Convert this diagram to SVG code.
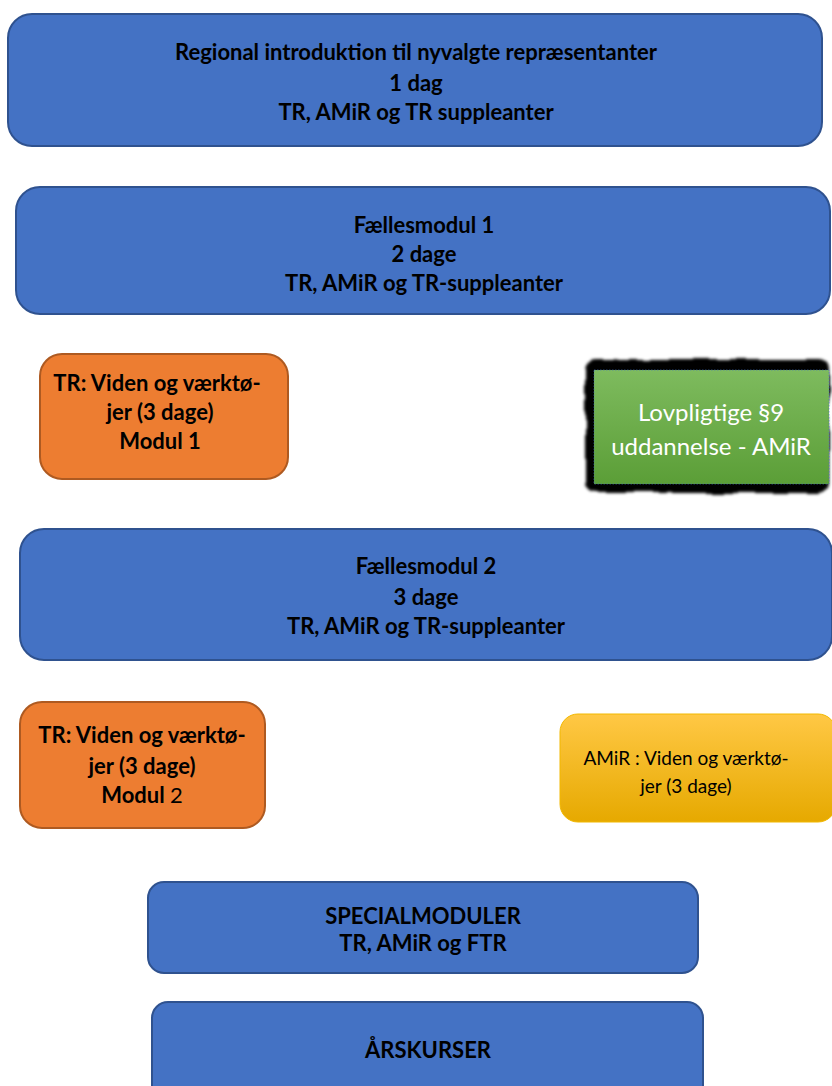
<svg xmlns="http://www.w3.org/2000/svg" width="832" height="1086" viewBox="0 0 832 1086">
<defs>
<linearGradient id="gYellow" x1="0" y1="0" x2="0" y2="1"><stop offset="0" stop-color="#ffc845"/><stop offset="1" stop-color="#e6a900"/></linearGradient>
<linearGradient id="gGreen" x1="0" y1="0" x2="0" y2="1"><stop offset="0" stop-color="#7ebb5e"/><stop offset="1" stop-color="#5b9e37"/></linearGradient>
<filter id="rough" x="-10%" y="-10%" width="120%" height="120%">
<feTurbulence type="fractalNoise" baseFrequency="0.035" numOctaves="2" seed="5" result="n"/>
<feDisplacementMap in="SourceGraphic" in2="n" scale="7" xChannelSelector="R" yChannelSelector="G" result="d"/>
<feGaussianBlur in="d" stdDeviation="1.8"/>
</filter>
</defs>
<style>
.blue{fill:#4472c4;stroke:#2f528f;stroke-width:2}
.orange{fill:#ed7d31;stroke:#ae5a21;stroke-width:2}
.t{font-family:Lato,"Open Sans","Liberation Sans",sans-serif;font-size:22px;font-weight:bold;fill:#000;text-anchor:middle}
.n{font-weight:normal}
</style>
<rect width="832" height="1086" fill="#fff"/>
<g id="regional">
<rect class="blue" x="8" y="14" width="814" height="132" rx="24"/>
<text class="t" x="416" y="60">Regional introduktion til nyvalgte repræsentanter</text>
<text class="t" x="416" y="91">1 dag</text>
<text class="t" x="416" y="120">TR, AMiR og TR suppleanter</text>
</g>
<g id="faelles1">
<rect class="blue" x="16" y="187" width="814" height="127" rx="24"/>
<text class="t" x="424" y="233">Fællesmodul 1</text>
<text class="t" x="424" y="262">2 dage</text>
<text class="t" x="424" y="291">TR, AMiR og TR-suppleanter</text>
</g>
<g id="tr1">
<rect class="orange" x="40" y="354" width="248" height="125" rx="22"/>
<text class="t" x="157" y="391">TR: Viden og værktø-</text>
<text class="t" x="160" y="420">jer (3 dage)</text>
<text class="t" x="160" y="449">Modul 1</text>
</g>
<g id="lovpligtige">
<rect x="585" y="359" width="244" height="134" rx="10" fill="#000" filter="url(#rough)"/>
<rect x="594" y="370" width="235" height="114" fill="url(#gGreen)" stroke="#4472c4" stroke-width="0.6" stroke-dasharray="1.5 1.5"/>
<text class="t n" x="711" y="421" style="font-size:24px;fill:#fff">Lovpligtige §9</text>
<text class="t n" x="711" y="455" style="font-size:24px;fill:#fff">uddannelse - AMiR</text>
</g>
<g id="faelles2">
<rect class="blue" x="20" y="529" width="812" height="131" rx="24"/>
<text class="t" x="426" y="574">Fællesmodul 2</text>
<text class="t" x="426" y="605">3 dage</text>
<text class="t" x="426" y="634">TR, AMiR og TR-suppleanter</text>
</g>
<g id="tr2">
<rect class="orange" x="20" y="702" width="245" height="126" rx="22"/>
<text class="t" x="142" y="743">TR: Viden og værktø-</text>
<text class="t" x="142" y="774">jer (3 dage)</text>
<text class="t" x="142" y="803">Modul <tspan class="n">2</tspan></text>
</g>
<g id="amir">
<rect x="560" y="714" width="276" height="108" rx="18" fill="url(#gYellow)" stroke="#f2b800" stroke-width="1"/>
<text class="t n" x="686" y="765" style="font-size:19px">AMiR : Viden og værktø-</text>
<text class="t n" x="686" y="793" style="font-size:19px">jer (3 dage)</text>
</g>
<g id="special">
<rect class="blue" x="148" y="882" width="550" height="91" rx="16"/>
<text class="t" x="423" y="924">SPECIALMODULER</text>
<text class="t" x="423" y="951">TR, AMiR og FTR</text>
</g>
<g id="aarskurser">
<rect class="blue" x="152" y="1002" width="551" height="100" rx="16"/>
<text class="t" x="428" y="1058">ÅRSKURSER</text>
</g>
<g id="connectors"></g>
</svg>
